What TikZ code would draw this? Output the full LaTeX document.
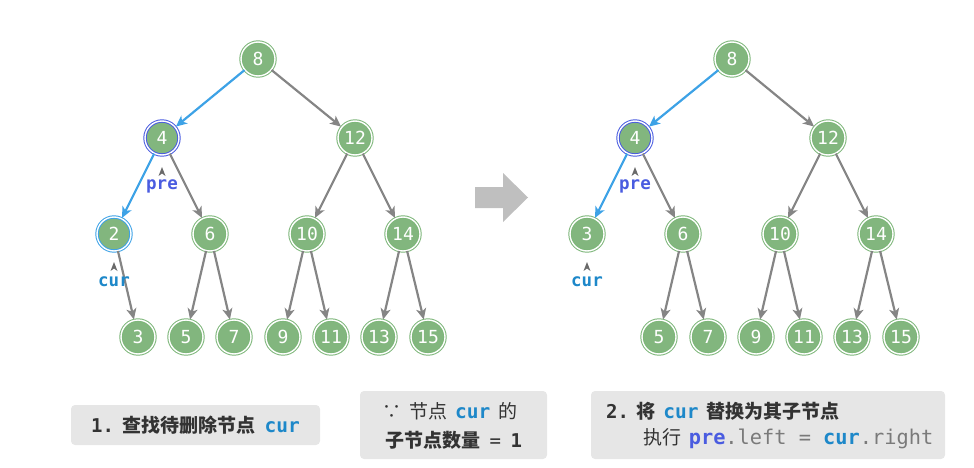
\documentclass[tikz,border=0pt]{standalone}
\usepackage{fontspec}
\setmainfont{DejaVu Sans}
\newfontfamily\cjk{Noto Sans CJK SC}
\newfontfamily\monof{DejaVu Sans Mono}
\usetikzlibrary{arrows.meta}
\definecolor{nodefill}{HTML}{82B67E}
\definecolor{nodeedge}{HTML}{7DB679}
\definecolor{edgegray}{HTML}{858585}
\definecolor{linkblue}{HTML}{3DA2E6}
\definecolor{preblue}{HTML}{4A5CE0}
\definecolor{curblue}{HTML}{1E88C9}
\definecolor{boxgray}{HTML}{E6E6E6}
\definecolor{textdark}{HTML}{333333}
\definecolor{codegray}{HTML}{7A7A7A}
\newcommand{\curtxt}{{\monof\bfseries\color{curblue}cur}}
\newcommand{\pretxt}{{\monof\bfseries\color{preblue}pre}}
\tikzset{
  tnode/.style={circle, minimum size=34pt, inner sep=0pt, fill=nodefill,
    draw=nodeedge, line width=1pt, double=white, double distance=1.4pt,
    text=white, font=\monof\fontsize{18}{18}\selectfont},
  prenode/.style={tnode, draw=preblue},
  curnode/.style={tnode, draw=linkblue},
  edge/.style={draw=edgegray, line width=2.2pt, -{Stealth[length=11pt,width=10pt,inset=3pt]}, shorten >=0.5pt},
  bedge/.style={edge, draw=linkblue},
  ptr/.style={fill=edgegray!80!black},
  ptrlabel/.style={inner sep=0pt, font=\fontsize{17.5}{17.5}\selectfont},
  infobox/.style={fill=boxgray, rounded corners=4pt, inner sep=0pt},
  btxt/.style={inner sep=0pt, text=textdark, font=\fontsize{19}{21}\selectfont},
}
\begin{document}
\begin{tikzpicture}[x=1pt,y=-1pt]
\useasboundingbox (0,0) rectangle (974,468);
% ---------- left tree ----------
\node[tnode] (L8) at (258,59) {8};
\node[prenode] (L4) at (162,138) {4};
\node[tnode] (L12) at (355,138) {12};
\node[curnode] (L2) at (114,234) {2};
\node[tnode] (L6) at (210,234) {6};
\node[tnode] (L10) at (307,234) {10};
\node[tnode] (L14) at (403,234) {14};
\node[tnode] (L3) at (138,337) {3};
\node[tnode] (L5) at (186,337) {5};
\node[tnode] (L7) at (234,337) {7};
\node[tnode] (L9) at (283,337) {9};
\node[tnode] (L11) at (331,337) {11};
\node[tnode] (L13) at (379,337) {13};
\node[tnode] (L15) at (428,337) {15};
\draw[bedge] (L8) -- (L4);
\draw[edge] (L8) -- (L12);
\draw[bedge] (L4) -- (L2);
\draw[edge] (L4) -- (L6);
\draw[edge] (L12) -- (L10);
\draw[edge] (L12) -- (L14);
\draw[edge] (L2) -- (L3);
\draw[edge] (L6) -- (L5);
\draw[edge] (L6) -- (L7);
\draw[edge] (L10) -- (L9);
\draw[edge] (L10) -- (L11);
\draw[edge] (L14) -- (L13);
\draw[edge] (L14) -- (L15);
\node[ptrlabel] (Lpre) at (162,186) {\pretxt};
\node[ptrlabel] (Lcur) at (114,282) {\curtxt};
\fill[ptr] (158.5,176) -- (162,167) -- (165.5,176) -- (162,173.5) -- cycle;
\fill[ptr] (110.5,271) -- (114,262) -- (117.5,271) -- (114,268.5) -- cycle;
% ---------- big arrow ----------
\fill[fill=black!25] (475,187) -- (503,187) -- (503,173) -- (528,197.5) -- (503,222) -- (503,208) -- (475,208) -- cycle;
% ---------- right tree ----------
\node[tnode] (R8) at (732,59) {8};
\node[prenode] (R4) at (635,138) {4};
\node[tnode] (R12) at (828,138) {12};
\node[tnode] (R3) at (587,234) {3};
\node[tnode] (R6) at (683,234) {6};
\node[tnode] (R10) at (780,234) {10};
\node[tnode] (R14) at (876,234) {14};
\node[tnode] (R5) at (659,337) {5};
\node[tnode] (R7) at (708,337) {7};
\node[tnode] (R9) at (756,337) {9};
\node[tnode] (R11) at (804,337) {11};
\node[tnode] (R13) at (852,337) {13};
\node[tnode] (R15) at (901,337) {15};
\draw[bedge] (R8) -- (R4);
\draw[edge] (R8) -- (R12);
\draw[bedge] (R4) -- (R3);
\draw[edge] (R4) -- (R6);
\draw[edge] (R12) -- (R10);
\draw[edge] (R12) -- (R14);
\draw[edge] (R6) -- (R5);
\draw[edge] (R6) -- (R7);
\draw[edge] (R10) -- (R9);
\draw[edge] (R10) -- (R11);
\draw[edge] (R14) -- (R13);
\draw[edge] (R14) -- (R15);
\node[ptrlabel] (Rpre) at (635,186) {\pretxt};
\node[ptrlabel] (Rcur) at (587,282) {\curtxt};
\fill[ptr] (631.5,176) -- (635,167) -- (638.5,176) -- (635,173.5) -- cycle;
\fill[ptr] (583.5,271) -- (587,262) -- (590.5,271) -- (587,268.5) -- cycle;
% ---------- info boxes ----------
\node[infobox, minimum width=249pt, minimum height=40pt] (B1) at (195.5,425) {};
\node[btxt] (B1t) at (B1.center) {{\monof\bfseries 1.} {\cjk\bfseries 查找待删除节点}\hspace{0.5em}{\fontsize{19.5}{21}\selectfont\curtxt}};
\node[infobox, minimum width=187pt, minimum height=68pt] (B2) at (453.5,425) {};
\node[btxt] (B2a) at (450,411) {{\cjk ∵\hspace{0.4em}节点}\hspace{0.4em}{\fontsize{19.5}{21}\selectfont\curtxt}\hspace{0.4em}{\cjk 的}};
\node[btxt] (B2b) at (453.5,440) {{\cjk\bfseries 子节点数量}\hspace{0.5em}{\monof =}\hspace{0.5em}{\monof\bfseries 1}};
\node[infobox, minimum width=354pt, minimum height=68pt] (B3) at (768,425) {};
\node[btxt, anchor=west] (B3a) at (606,411) {{\monof\bfseries 2.}\hspace{0.4em}{\cjk\bfseries 将}\hspace{0.4em}{\fontsize{19.5}{21}\selectfont\curtxt}\hspace{0.4em}{\cjk\bfseries 替换为其子节点}};
\node[btxt, anchor=west] (B3b) at (643,439) {{\cjk 执行}\hspace{0.4em}{\fontsize{20.3}{21}\selectfont\pretxt{\monof\color{codegray}.left = }\curtxt{\monof\color{codegray}.right}}};
\end{tikzpicture}
\end{document}
